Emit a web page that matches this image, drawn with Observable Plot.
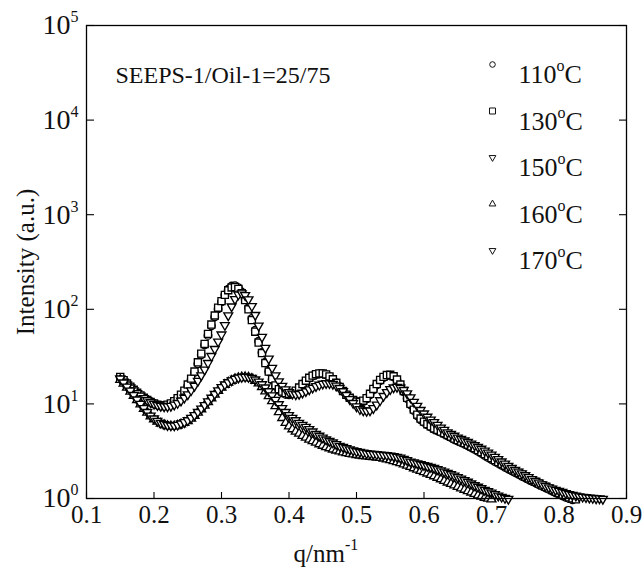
<!DOCTYPE html>
<html>
<head>
<meta charset="utf-8">
<script src="https://cdn.jsdelivr.net/npm/d3@7"></script>
<script src="https://cdn.jsdelivr.net/npm/@observablehq/plot@0.6"></script>
<style>
  html, body { margin: 0; padding: 0; background: white; }
  #chart svg { display: block; }
</style>
</head>
<body>
<div id="chart"></div>
<script>
// ---- data ----
const q = [
  0.150,0.155,0.160,0.165,0.170,0.175,0.180,0.185,0.190,0.195,
  0.200,0.205,0.210,0.215,0.220,0.225,0.230,0.235,0.240,0.245,
  0.250,0.255,0.260,0.265,0.270,0.275,0.280,0.285,0.290,0.295,
  0.300,0.305,0.310,0.315,0.320,0.325,0.330,0.335,0.340,0.345,
  0.350,0.355,0.360,0.365,0.370,0.375,0.380,0.385,0.390,0.395,
  0.400,0.405,0.410,0.415,0.420,0.425,0.430,0.435,0.440,0.445,
  0.450,0.455,0.460,0.465,0.470,0.475,0.480,0.485,0.490,0.495,
  0.500,0.505,0.510,0.515,0.520,0.525,0.530,0.535,0.540,0.545,
  0.550,0.555,0.560,0.565,0.570,0.575,0.580,0.585,0.590,0.595,
  0.600,0.605,0.610,0.615,0.620,0.625,0.630,0.635,0.640,0.645,
  0.650,0.655,0.660,0.665,0.670,0.675,0.680,0.685,0.690,0.695,
  0.700,0.705,0.710,0.715,0.720,0.725,0.730,0.735,0.740,0.745,
  0.750,0.755,0.760,0.765,0.770,0.775,0.780,0.785,0.790,0.795,
  0.800,0.805,0.810,0.815,0.820,0.825,0.830,0.835,0.840,0.845,
  0.850,0.855,0.860,0.865,0.870
];

const s110 = [
  19.0,17.6,16.3,15.1,14.0,13.0,12.2,11.5,10.9,10.4,
  10.0,9.7,9.5,9.5,9.7,10.0,10.6,11.4,12.3,13.5,
  15.5,18,21.5,26.5,33,42,53,67,83,101,
  120,142,163,176,178,169,152,129,104,80,
  60,46,35,27.5,22,18,15.4,13.9,13.1,12.6,
  12.5,12.8,13.5,14.6,16.0,17.4,18.7,19.7,20.4,20.8,
  20.8,20.3,19.4,18.1,16.6,15.0,13.6,12.4,11.5,10.9,
  10.5,10.4,10.6,11.3,12.5,14.1,15.9,17.6,19.0,19.9,
  20.0,19.3,17.8,15.7,13.4,11.4,9.8,8.5,7.5,6.8,
  6.4,6.0,5.7,5.4,5.2,5.0,4.8,4.6,4.4,4.2,
  4.05,3.9,3.75,3.6,3.45,3.3,3.15,3.0,2.85,2.7,
  2.58,2.46,2.35,2.24,2.14,2.05,1.96,1.88,1.8,1.72,
  1.65,1.58,1.52,1.46,1.4,1.35,1.3,1.25,1.2,1.15,
  1.11,1.07,1.03,1.0,0.97
];

const s130 = [
  19.3,17.8,16.4,15.2,14.1,13.1,12.3,11.6,11.0,10.5,
  10.1,9.8,9.6,9.6,9.8,10.1,10.7,11.5,12.5,13.8,
  16,18.5,22,27.5,34,43,55,69,86,104,
  122,142,159,170,172,164,148,125,100,77,
  58,44.5,34.5,27,22,18.3,15.7,14.3,13.5,13.0,
  12.8,13.1,13.8,14.9,16.2,17.6,18.9,19.9,20.6,21.0,
  21.0,20.5,19.5,18.2,16.7,15.1,13.7,12.5,11.6,11.0,
  10.6,10.5,10.8,11.5,12.8,14.4,16.2,17.9,19.3,20.2,
  20.3,19.6,18.1,16.0,13.7,11.6,10.0,8.7,7.7,7.0,
  6.5,6.1,5.8,5.5,5.3,5.1,4.9,4.7,4.5,4.3,
  4.15,4.0,3.85,3.7,3.55,3.4,3.25,3.1,2.95,2.8,
  2.67,2.55,2.43,2.32,2.22,2.12,2.03,1.94,1.86,1.78,
  1.7,1.63,1.56,1.5,1.44,1.38,1.33,1.28,1.23,1.18,
  1.14,1.1,1.06,1.03,1.0,0.98
];

const s150 = [
  18.5,17.2,16.0,14.9,13.9,13.0,12.2,11.5,10.9,10.4,
  10.0,9.7,9.5,9.4,9.4,9.5,9.8,10.2,10.8,11.6,
  12.6,13.9,15.5,17.5,20,23,27,32,38,45.5,
  54,68,86,107,128,143,147,141,127,108,
  87,67,51,39,30,24,20,17.3,15.5,14.2,
  13.3,12.8,12.6,12.7,13.1,13.6,14.2,14.8,15.4,15.9,
  16.3,16.5,16.5,16.2,15.6,14.7,13.6,12.4,11.2,10.2,
  9.4,8.8,8.5,8.4,8.5,9.0,9.8,10.9,12.1,13.3,
  14.3,14.9,15.1,14.8,14.0,12.9,11.7,10.5,9.5,8.6,
  7.9,7.3,6.8,6.4,6.0,5.6,5.3,5.0,4.8,4.6,
  4.4,4.25,4.1,3.95,3.8,3.65,3.5,3.35,3.2,3.05,
  2.9,2.75,2.6,2.46,2.33,2.21,2.1,2.0,1.92,1.84,
  1.76,1.68,1.6,1.53,1.47,1.41,1.36,1.31,1.27,1.23,
  1.2,1.17,1.14,1.11,1.09,1.07,1.05,1.04,1.03,1.02,
  1.01,1.0,1.0,0.99
];

const s160 = [
  18.0,16.4,14.9,13.5,12.2,11.0,9.9,8.9,8.1,7.4,
  6.9,6.5,6.2,6.0,5.85,5.8,5.8,5.9,6.1,6.3,
  6.6,7.0,7.5,8.1,8.8,9.6,10.5,11.5,12.6,13.8,
  14.9,15.9,16.8,17.6,18.3,18.8,19.1,19.2,19.0,18.5,
  17.6,16.5,15.1,13.6,12.1,10.7,9.5,8.2,7.1,6.3,
  5.8,5.4,5.1,4.85,4.6,4.4,4.2,4.05,3.9,3.75,
  3.62,3.5,3.4,3.3,3.22,3.15,3.08,3.02,2.97,2.93,
  2.89,2.85,2.82,2.79,2.77,2.75,2.72,2.69,2.65,2.6,
  2.55,2.49,2.43,2.37,2.3,2.23,2.16,2.09,2.02,1.96,
  1.9,1.84,1.78,1.72,1.66,1.6,1.54,1.48,1.43,1.38,
  1.33,1.28,1.24,1.2,1.16,1.12,1.08,1.05,1.02,1.0,
  0.98
];

const s170 = [
  18.5,16.8,15.2,13.8,12.4,11.1,10.0,9.0,8.2,7.5,
  7.0,6.6,6.3,6.1,5.95,5.9,5.9,6.0,6.2,6.4,
  6.7,7.1,7.6,8.2,8.9,9.7,10.6,11.6,12.7,13.9,
  15.0,16.0,16.9,17.7,18.4,18.9,19.2,19.3,19.2,18.8,
  18.1,17.2,16.1,14.9,13.6,12.3,11.0,9.9,9.0,8.2,
  7.6,7.1,6.7,6.3,6.0,5.7,5.4,5.1,4.8,4.6,
  4.4,4.2,4.05,3.9,3.75,3.6,3.5,3.4,3.3,3.22,
  3.15,3.1,3.05,3.0,2.97,2.95,2.93,2.9,2.88,2.86,
  2.84,2.8,2.75,2.7,2.62,2.54,2.45,2.4,2.35,2.3,
  2.25,2.2,2.15,2.1,2.04,1.98,1.92,1.86,1.8,1.74,
  1.68,1.62,1.56,1.5,1.44,1.38,1.33,1.28,1.23,1.19,
  1.15,1.11,1.07,1.04,1.01,0.99
];

const temps = ["110", "130", "150", "160", "170"];
const symbols = ["circle", "square", "triangle", "triangle", "triangle"];
const rotations = [0, 0, 180, 0, 180];
const series = [s110, s130, s150, s160, s170];
const yTicks = [1, 10, 100, 1000, 10000, 100000];
const xTicks = [0.1, 0.2, 0.3, 0.4, 0.5, 0.6, 0.7, 0.8, 0.9];
const sampleLabel = "SEEPS-1/Oil-1=25/75";
const xLabel = "q/nm^{-1}";
const yLabel = "Intensity (a.u.)";

// ---- layout ----
const W = 644, H = 572;
const mL = 86, mT = 25, mR = 18, mB = 74;
const pw = W - mL - mR, ph = H - mT - mB;
const symbolR = [3.8, 4.0, 3.3, 3.3, 3.3];
const legendR = [2.8, 3.4, 2.5, 2.5, 2.5];

const rows = series.flatMap((s, k) => s.map((v, i) => ({q: q[i], I: v, k})));

const marks = [];
// data markers
series.forEach((s, k) => {
  marks.push(Plot.dot(rows.filter(d => d.k === k), {
    x: "q", y: "I",
    symbol: symbols[k], rotate: rotations[k], r: symbolR[k],
    fill: "white", stroke: "#000", strokeWidth: 1.35
  }));
});
// frame + inward ticks
marks.push(Plot.frame({stroke: "#000", strokeWidth: 1.3}));
marks.push(Plot.tickY(yTicks, {y: d => d, insetRight: pw - 8, stroke: "#000", strokeWidth: 1.1}));
marks.push(Plot.tickY(yTicks, {y: d => d, insetLeft: pw - 7, stroke: "#000", strokeWidth: 1.1}));
marks.push(Plot.tickX(xTicks, {x: d => d, insetTop: ph - 6, stroke: "#000", strokeWidth: 1.1}));
// tick labels
marks.push(Plot.text(yTicks, {
  y: d => d, text: d => "10^{" + Math.round(Math.log10(d)) + "}",
  frameAnchor: "left", textAnchor: "end", dx: -8, lineAnchor: "middle",
  fontSize: 28, fill: "#111"
}));
marks.push(Plot.text(xTicks, {
  x: d => d, text: d => d.toFixed(1),
  frameAnchor: "bottom", textAnchor: "middle", lineAnchor: "middle", dy: 16,
  fontSize: 25, fill: "#111"
}));
// axis labels
marks.push(Plot.text([xLabel], {
  text: d => d, frameAnchor: "bottom-left", textAnchor: "start",
  dx: 207, dy: 55, lineAnchor: "middle", fontSize: 25, fill: "#111"
}));
marks.push(Plot.text([yLabel], {
  text: d => d, frameAnchor: "left", textAnchor: "middle", rotate: -90,
  dx: -61, lineAnchor: "middle", fontSize: 25, fill: "#111"
}));
// sample annotation
marks.push(Plot.text([sampleLabel], {
  text: d => d, frameAnchor: "top-left", textAnchor: "start",
  dx: 29, dy: 49.5, lineAnchor: "middle", fontSize: 24, fill: "#111"
}));
// legend
temps.forEach((t, k) => {
  marks.push(Plot.dot([t], {
    frameAnchor: "top-left", dx: 406, dy: 39 + k * 46.5,
    symbol: symbols[k], rotate: rotations[k], r: legendR[k],
    fill: "white", stroke: "#111", strokeWidth: 1
  }));
  marks.push(Plot.text([t], {
    text: d => d + "^{o}C", frameAnchor: "top-left", textAnchor: "start",
    dx: 432, dy: 49.5 + k * 46.5, lineAnchor: "middle", fontSize: 26, fill: "#111"
  }));
});

const chart = Plot.plot({
  width: W, height: H,
  marginLeft: mL, marginTop: mT, marginRight: mR, marginBottom: mB,
  x: {domain: [0.1, 0.9], axis: null},
  y: {type: "log", domain: [1, 1e5], axis: null},
  style: {fontFamily: "'Liberation Serif', 'Times New Roman', serif", background: "white", color: "#111"},
  marks
});

// turn "base^{sup}rest" into real superscripts
const NS = "http://www.w3.org/2000/svg";
chart.querySelectorAll("text").forEach(el => {
  const s = el.textContent;
  const m = s.match(/^(.*)\^\{([^}]*)\}(.*)$/);
  if (!m) return;
  const fs = parseFloat(el.getAttribute("font-size") || getComputedStyle(el).fontSize) || 25;
  const rise = Math.round(fs * 0.48);
  while (el.firstChild) el.removeChild(el.firstChild);
  el.appendChild(document.createTextNode(m[1]));
  const sup = document.createElementNS(NS, "tspan");
  sup.setAttribute("dy", -rise);
  sup.setAttribute("font-size", Math.round(fs * 0.62));
  sup.textContent = m[2];
  el.appendChild(sup);
  if (m[3]) {
    const rest = document.createElementNS(NS, "tspan");
    rest.setAttribute("dy", rise);
    rest.textContent = m[3];
    el.appendChild(rest);
  }
});

document.getElementById("chart").appendChild(chart);
</script>
</body>
</html>
